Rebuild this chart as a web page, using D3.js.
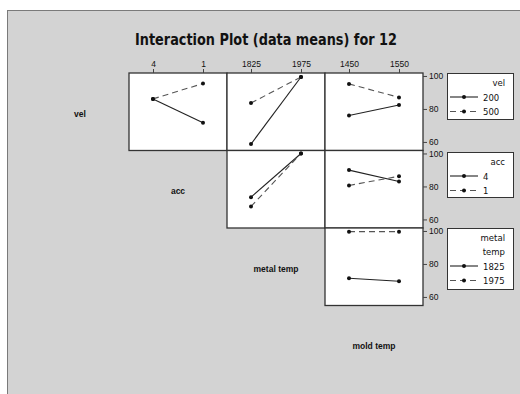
<!DOCTYPE html>
<html>
<head>
<meta charset="utf-8">
<script src="https://cdn.jsdelivr.net/npm/d3@7"></script>
<style>
  body { margin: 0; background: #fff; }
  text { font-family: "DejaVu Sans", Verdana, sans-serif; fill: #111; }
  .tick text, .diag { font-family: "Liberation Sans", Arial, sans-serif; }
</style>
</head>
<body>
<div id="chart"></div>
<script>
// factor names and their levels
const factors = ['vel', 'acc', 'metal temp', 'mold temp'];
const velLevels = ['200', '500'];
const accLevels = ['4', '1'];
const metalLevels = ['1825', '1975'];
const moldLevels = ['1450', '1550'];
const yTicks = [60, 80, 100];

// means: one array per trace level, values along the x factor levels
const velAcc200 = [86.1, 71.6], velAcc500 = [86.1, 95.4];
const velMetal200 = [58.7, 99.4], velMetal500 = [83.6, 99.4];
const velMold200 = [76.0, 82.4], velMold500 = [95.2, 87.0];
const accMetal4 = [73.5, 100], accMetal1 = [67.9, 100];
const accMold4 = [89.9, 83.0], accMold1 = [80.6, 86.2];
const metalMold1825 = [71.3, 69.5], metalMold1975 = [99.6, 99.6];

const levels = [velLevels, accLevels, metalLevels, moldLevels];
const panels = [
  { row: 0, col: 1, series: [velAcc200, velAcc500] },
  { row: 0, col: 2, series: [velMetal200, velMetal500] },
  { row: 0, col: 3, series: [velMold200, velMold500] },
  { row: 1, col: 2, series: [accMetal4, accMetal1] },
  { row: 1, col: 3, series: [accMold4, accMold1] },
  { row: 2, col: 3, series: [metalMold1825, metalMold1975] }
];

const width = 520, height = 394;
const gridLeft = 31, gridTop = 73;
const cellW = 98, cellH = 77.5;

const svg = d3.select('#chart').append('svg')
    .attr('width', width)
    .attr('height', height);

// scanned-page background
svg.append('rect')
    .attr('x', 7.5).attr('y', 10.5)
    .attr('width', width).attr('height', height)
    .attr('fill', '#d3d3d3')
    .attr('stroke', '#7a7a7a');

svg.append('text')
    .attr('x', 266)
    .attr('y', 45)
    .attr('text-anchor', 'middle')
    .attr('font-size', 16.5)
    .attr('font-weight', 'bold')
    .attr('textLength', 262)
    .attr('lengthAdjust', 'spacingAndGlyphs')
    .text('Interaction Plot (data means) for 12');

const y = d3.scaleLinear().domain([54.8, 101.8]).range([cellH, 0]);

function xScale(col) {
    return d3.scalePoint()
        .domain(levels[col])
        .range([gridLeft + col * cellW, gridLeft + (col + 1) * cellW])
        .padding(0.48);
}

// diagonal labels
factors.forEach((f, i) => {
    svg.append('text')
        .attr('class', 'diag')
        .attr('x', gridLeft + (i + 0.5) * cellW)
        .attr('y', gridTop + (i + 0.5) * cellH + 5)
        .attr('text-anchor', 'middle')
        .attr('font-size', 8.5)
        .attr('font-weight', 'bold')
        .text(f);
});

const cells = svg.selectAll('.cell')
    .data(panels)
    .join('g')
        .attr('class', 'cell')
        .attr('transform', d => `translate(0,${gridTop + d.row * cellH})`);

cells.append('rect')
    .attr('x', d => gridLeft + d.col * cellW)
    .attr('y', 0)
    .attr('width', cellW)
    .attr('height', cellH)
    .attr('fill', '#fff')
    .attr('stroke', '#333')
    .attr('stroke-width', 1.3);

const line = (x) => d3.line()
    .x((v, i) => x(x.domain()[i]))
    .y(v => y(v));

cells.each(function(d) {
    const g = d3.select(this);
    const x = xScale(d.col);
    d.series.forEach((vals, k) => {
        g.append('path')
            .attr('d', line(x)(vals))
            .attr('fill', 'none')
            .attr('stroke', k === 0 ? '#222' : '#555')
            .attr('stroke-width', 1.1)
            .attr('stroke-dasharray', k === 0 ? null : '6,4');
        g.selectAll('.pt' + k)
            .data(vals)
            .join('circle')
                .attr('cx', (v, i) => x(x.domain()[i]))
                .attr('cy', v => y(v))
                .attr('r', 2)
                .attr('fill', '#111');
    });
});

// top axes for the three x factors
[1, 2, 3].forEach(col => {
    svg.append('g')
        .attr('transform', `translate(0,${gridTop})`)
        .call(d3.axisTop(xScale(col)).tickSize(4).tickSizeOuter(0))
        .call(g => g.select('.domain').remove())
        .call(g => g.selectAll('text').attr('font-size', 8.5).attr('dy', '0.1em'))
        .call(g => g.selectAll('line').attr('stroke', '#444'));
});

// right axes for each row
[0, 1, 2].forEach(row => {
    svg.append('g')
        .attr('transform', `translate(${gridLeft + 4 * cellW},${gridTop + row * cellH})`)
        .call(d3.axisRight(y).tickValues(yTicks).tickSize(4).tickPadding(2))
        .call(g => g.select('.domain').remove())
        .call(g => g.selectAll('text').attr('font-size', 8.5))
        .call(g => g.selectAll('line').attr('stroke', '#444'));
});

// legends
const legends = [
    { title: ['vel'], labels: velLevels, top: 73, h: 46 },
    { title: ['acc'], labels: accLevels, top: 152, h: 45 },
    { title: ['metal', 'temp'], labels: metalLevels, top: 228, h: 61 }
];
const legX = 447, legW = 66;

legends.forEach(l => {
    const g = svg.append('g').attr('transform', `translate(${legX},${l.top})`);
    g.append('rect')
        .attr('x', 0.5).attr('y', 0.5)
        .attr('width', legW).attr('height', l.h)
        .attr('fill', '#fff')
        .attr('stroke', '#333');
    l.title.forEach((t, i) => {
        g.append('text')
            .attr('x', 58)
            .attr('y', 13 + i * 14)
            .attr('text-anchor', 'end')
            .attr('font-size', 8.5)
            .text(t);
    });
    const base = 13 + (l.title.length - 1) * 14;
    l.labels.forEach((lab, k) => {
        const yy = base + 11 + k * 14.5;
        g.append('line')
            .attr('x1', 3).attr('x2', 31)
            .attr('y1', yy).attr('y2', yy)
            .attr('stroke', k === 0 ? '#222' : '#555')
            .attr('stroke-width', 1.1)
            .attr('stroke-dasharray', k === 0 ? null : '6,4');
        g.append('circle')
            .attr('cx', 17).attr('cy', yy).attr('r', 2).attr('fill', '#111');
        g.append('text')
            .attr('x', 36).attr('y', yy + 3.5)
            .attr('font-size', 8.5)
            .text(lab);
    });
});
</script>
</body>
</html>
